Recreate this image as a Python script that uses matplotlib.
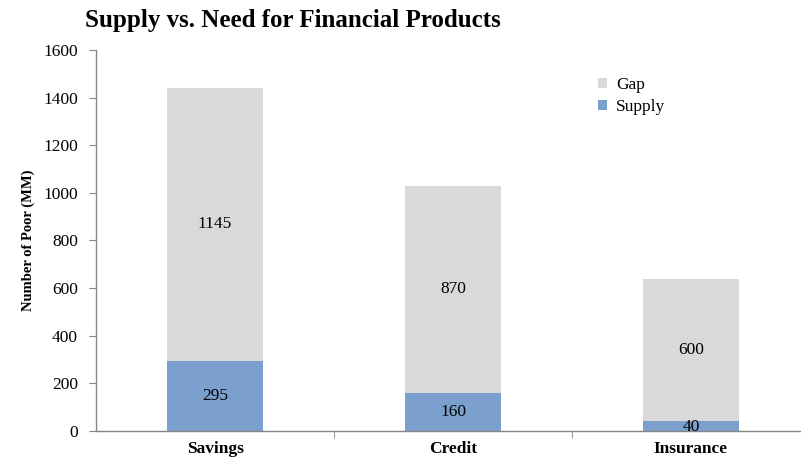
import matplotlib
matplotlib.use("Agg")
import matplotlib.pyplot as plt
import numpy as np

categories = ["Savings", "Credit", "Insurance"]
supply = [295, 160, 40]
gap = [1145, 870, 600]
yticks = [0, 200, 400, 600, 800, 1000, 1200, 1400, 1600]

plt.rcParams['font.family'] = ['Liberation Serif', 'DejaVu Serif']

fig = plt.figure(figsize=(8.01, 4.59), dpi=100)
W, H = 801, 459
left, bottom, right, top = 96, 431, 810, 50
ax = fig.add_axes([left / W, 1 - bottom / H, (right - left) / W, (bottom - top) / H])

blue = "#7ba0cd"
grey = "#d9d9d9"
x = np.arange(len(categories))
w = 0.4
b1 = ax.bar(x, supply, w, color=blue, label="Supply", zorder=2)
b2 = ax.bar(x, gap, w, bottom=supply, color=grey, label="Gap", zorder=2)

for i in range(len(categories)):
    ax.text(x[i], supply[i] / 2 if supply[i] > 60 else 18, str(supply[i]), ha="center", va="center", fontsize=12.5)
    ax.text(x[i], supply[i] + gap[i] / 2, str(gap[i]), ha="center", va="center", fontsize=12.5)

ax.set_xlim(-0.5, 2.5)
ax.set_ylim(0, 1600)
ax.set_yticks(yticks)
ax.set_yticklabels([str(v) for v in yticks], fontsize=12.5)
ax.set_xticks(x)
ax.set_xticklabels(categories, fontsize=12.5, fontweight="bold")
ax.set_xticks([0.5, 1.5], minor=True)
ax.tick_params(axis="x", which="major", length=0, pad=7)
ax.tick_params(axis="x", which="minor", length=5, color="#868686", direction="out")
ax.tick_params(axis="y", length=5, color="#868686", direction="out", pad=8)

for s in ["top", "right"]:
    ax.spines[s].set_visible(False)
for s in ["left", "bottom"]:
    ax.spines[s].set_color("#868686")
    ax.spines[s].set_linewidth(1)

ax.set_ylabel("Number of Poor (MM)", fontsize=10.5, fontweight="bold", labelpad=6)

fig.text(85 / W, 1 - 20 / H, "Supply vs. Need for Financial Products", fontsize=18,
         fontweight="bold", ha="left", va="center")

leg = ax.legend(handles=[b2, b1], labels=["Gap", "Supply"], loc="upper left",
                bbox_to_anchor=((591 - left) / (right - left), (bottom - 70) / (bottom - top)),
                frameon=False, fontsize=12.5, handlelength=0.55, handleheight=0.55,
                handletextpad=0.5, borderaxespad=0, labelspacing=0.35)

fig.savefig("out.png", dpi=100)
